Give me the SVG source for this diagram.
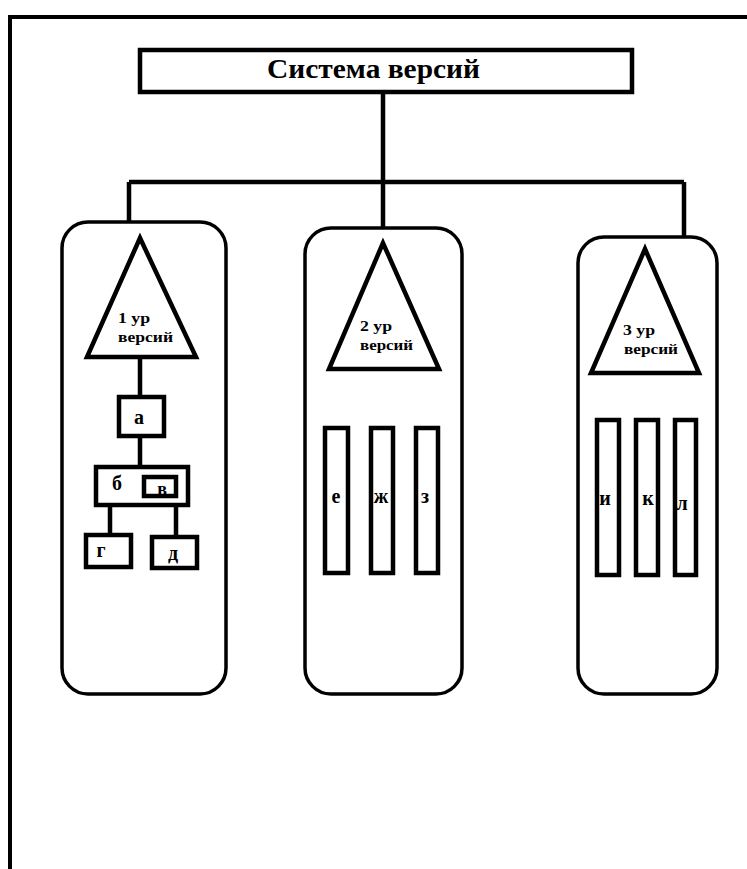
<svg xmlns="http://www.w3.org/2000/svg" width="747" height="869" viewBox="0 0 747 869">
<style>
.s{fill:#fff;stroke:#000;stroke-width:4.5}
.p{fill:#fff;stroke:#000;stroke-width:3.5}
.c{fill:none;stroke:#000;stroke-width:4.5}
.t{font-family:"Liberation Serif","DejaVu Serif",serif;font-weight:bold;fill:#000}
.sm{font-size:15px}
.lt{font-size:20px;text-anchor:middle}
</style>
<rect x="0" y="0" width="747" height="869" fill="#fff"/>
<path d="M10,869 V17 H747" fill="none" stroke="#000" stroke-width="4"/>
<g id="root">
<rect class="s" x="140" y="50" width="492" height="42"/>
<text class="t" x="267" y="78" font-size="27" textLength="213" lengthAdjust="spacingAndGlyphs">Система версий</text>
</g>
<g id="panel1">
<rect class="p" x="62" y="222" width="164" height="472" rx="26"/>
<polygon class="s" points="140,238 87,357 196,357"/>
<text class="t sm" x="118" y="323" textLength="32" lengthAdjust="spacingAndGlyphs">1 ур</text>
<text class="t sm" x="118" y="342" textLength="55" lengthAdjust="spacingAndGlyphs">версий</text>
</g>
<g id="panel2">
<rect class="p" x="305" y="228" width="157" height="466" rx="26"/>
<polygon class="s" points="383,243 329,369 439,369"/>
<text class="t sm" x="360" y="331" textLength="32" lengthAdjust="spacingAndGlyphs">2 ур</text>
<text class="t sm" x="360" y="350" textLength="53" lengthAdjust="spacingAndGlyphs">версий</text>
</g>
<g id="panel3">
<rect class="p" x="578" y="237" width="139" height="457" rx="26"/>
<polygon class="s" points="645,249 591,373 699,373"/>
<text class="t sm" x="623" y="335" textLength="32" lengthAdjust="spacingAndGlyphs">3 ур</text>
<text class="t sm" x="624" y="354" textLength="54" lengthAdjust="spacingAndGlyphs">версий</text>
</g>
<g id="connectors">
<path class="c" d="M383,93 V182 M129,182 H684 M129,182 V222 M383,182 V228 M684,182 V237"/>
<path class="c" d="M140,358 V397 M140,436 V467 M110,505 V535 M176,505 V537"/>
</g>
<g id="a"><rect class="s" x="119" y="397" width="45" height="39"/><text class="t lt" x="139" y="424">а</text></g>
<g id="b"><rect class="s" x="96" y="467" width="92" height="38"/><text class="t lt" x="117" y="490">б</text></g>
<g id="v"><rect class="s" x="144" y="477" width="32" height="19"/><text class="t" x="162" y="495" font-size="18" text-anchor="middle">в</text></g>
<g id="g"><rect class="s" x="86" y="535" width="45" height="32"/><text class="t lt" x="101" y="557">г</text></g>
<g id="d"><rect class="s" x="152" y="537" width="45" height="31"/><text class="t lt" x="173" y="560">д</text></g>
<g id="e"><rect class="s" x="325" y="428" width="23" height="145"/><text class="t lt" x="336" y="503">е</text></g>
<g id="zh"><rect class="s" x="371" y="428" width="22" height="145"/><text class="t lt" x="381" y="503">ж</text></g>
<g id="z"><rect class="s" x="416" y="428" width="22" height="145"/><text class="t lt" x="425" y="503">з</text></g>
<g id="i"><rect class="s" x="597" y="420" width="22" height="155"/><text class="t lt" x="605" y="505">и</text></g>
<g id="k"><rect class="s" x="636" y="420" width="22" height="155"/><text class="t lt" x="648" y="505">к</text></g>
<g id="l"><rect class="s" x="675" y="420" width="21" height="155"/><text class="t lt" x="682" y="510">л</text></g>
</svg>
